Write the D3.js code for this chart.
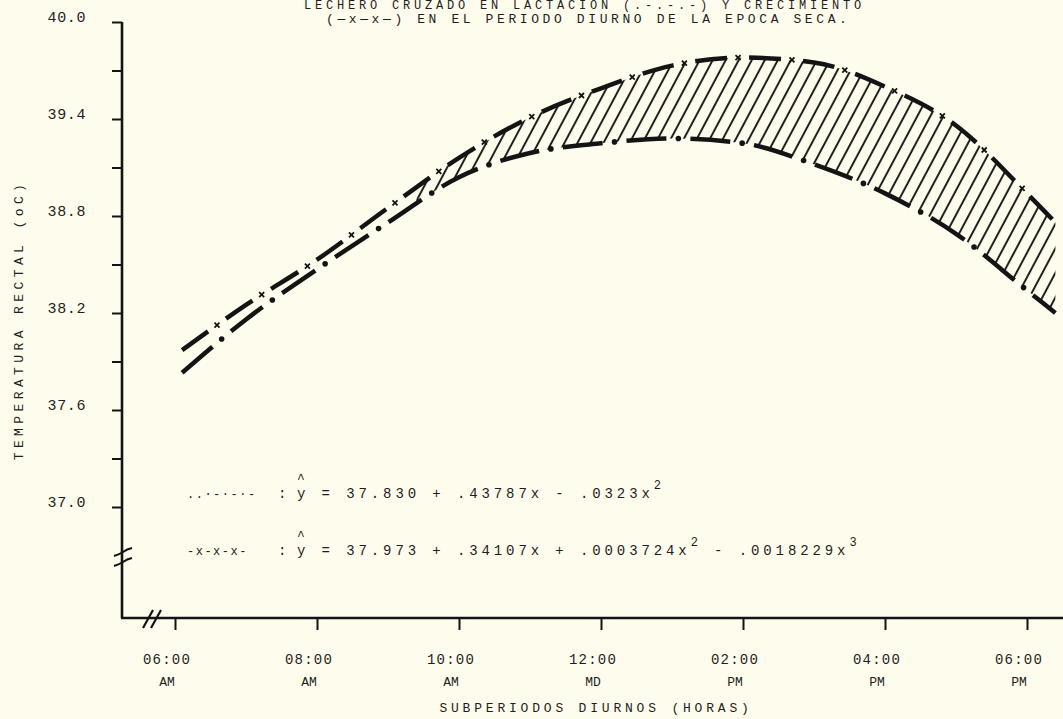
<!DOCTYPE html>
<html>
<head>
<meta charset="utf-8">
<script src="https://cdn.jsdelivr.net/npm/d3@7"></script>
<style>
body { margin: 0; background: #fefcec; }
svg { display: block; }
text { font-family: "Liberation Mono", "DejaVu Sans Mono", monospace; fill: #1e1e1e; }
</style>
</head>
<body>
<div id="chart"></div>
<script>
// horas desde las 06:00 AM
var hours = [0.1, 1, 2, 3, 4, 5, 6, 7, 8, 9, 10, 11, 12, 12.4];
// curva -x-x-x- (cubica)
var cubica = [37.97, 38.25, 38.53, 38.85, 39.16, 39.41, 39.59, 39.73, 39.78, 39.75, 39.60, 39.36, 38.94, 38.76];
// curva ..-.-.- (cuadratica)
var cuadratica = [37.83, 38.16, 38.47, 38.76, 39.04, 39.19, 39.25, 39.28, 39.25, 39.12, 38.94, 38.69, 38.34, 38.20];

var xTicks = [0, 2, 4, 6, 8, 10, 12];
var xHoras = ["06:00", "08:00", "10:00", "12:00", "02:00", "04:00", "06:00"];
var xPeriodo = ["AM", "AM", "AM", "MD", "PM", "PM", "PM"];
var yTicks = [37.0, 37.3, 37.6, 37.9, 38.2, 38.5, 38.8, 39.1, 39.4, 39.7, 40.0];
var yLabels = [37.0, 37.6, 38.2, 38.8, 39.4, 40.0];

var W = 1063, H = 719;
var ink = "#141414";

let svg = d3.select("#chart").append("svg")
    .attr("width", W)
    .attr("height", H);

let x = d3.scaleLinear().domain([0, 12]).range([175, 1027]);
let y = d3.scaleLinear().domain([37.0, 40.0]).range([507, 22]);

var axisX0 = 122, axisY0 = 618;

// patron de rayado
let defs = svg.append("defs");
let pat = defs.append("pattern")
    .attr("id", "hatch")
    .attr("patternUnits", "userSpaceOnUse")
    .attr("width", 11.5).attr("height", 11.5)
    .attr("patternTransform", "rotate(28)");
pat.append("line")
    .attr("x1", 2).attr("y1", 0).attr("x2", 2).attr("y2", 11.5)
    .attr("stroke", ink).attr("stroke-width", 1.9);
defs.append("clipPath").attr("id", "hclip")
    .append("rect")
    .attr("x", x(3.4)).attr("y", 0)
    .attr("width", W - x(3.4)).attr("height", axisY0);

// titulo
svg.append("text")
    .attr("x", 304).attr("y", 9)
    .style("font-size", "12px").style("letter-spacing", "3.8px")
    .text("LECHERO CRUZADO EN LACTACION (.-.-.-) Y CRECIMIENTO");
svg.append("text")
    .attr("x", 326).attr("y", 23)
    .style("font-size", "13px").style("letter-spacing", "3.6px")
    .text("(\u2014x\u2014x\u2014) EN EL PERIODO DIURNO DE LA EPOCA SECA.");

// ejes
svg.append("line")
    .attr("x1", axisX0).attr("y1", y(40)).attr("x2", axisX0).attr("y2", axisY0)
    .attr("stroke", ink).attr("stroke-width", 2.6);
svg.append("line")
    .attr("x1", axisX0 - 1).attr("y1", axisY0).attr("x2", W).attr("y2", axisY0)
    .attr("stroke", ink).attr("stroke-width", 2.6);

let gy = svg.append("g")
    .attr("transform", "translate(" + axisX0 + ",0)")
    .call(d3.axisLeft(y).tickValues(yTicks).tickSize(10).tickFormat(""));
gy.select(".domain").remove();
gy.selectAll("line").attr("stroke", ink).attr("stroke-width", 2);

svg.selectAll(".ylab")
    .data(yLabels)
    .join("text")
    .attr("class", "ylab")
    .attr("x", 86)
    .attr("y", d => y(d) - 5)
    .attr("dy", "0.35em")
    .attr("text-anchor", "end")
    .style("font-size", "15px").style("letter-spacing", "0.6px")
    .text(d => d.toFixed(1));

let gx = svg.append("g")
    .attr("transform", "translate(0," + axisY0 + ")")
    .call(d3.axisBottom(x).tickValues(xTicks).tickSize(12).tickFormat(""));
gx.select(".domain").remove();
gx.selectAll("line").attr("stroke", ink).attr("stroke-width", 2);

svg.selectAll(".xlab")
    .data(xTicks)
    .join("text")
    .attr("class", "xlab")
    .attr("x", d => x(d) - 8)
    .attr("y", 664)
    .attr("text-anchor", "middle")
    .style("font-size", "14px").style("letter-spacing", "1.2px")
    .text((d, i) => xHoras[i]);
svg.selectAll(".xper")
    .data(xTicks)
    .join("text")
    .attr("class", "xper")
    .attr("x", d => x(d) - 8)
    .attr("y", 686)
    .attr("text-anchor", "middle")
    .style("font-size", "13px")
    .text((d, i) => xPeriodo[i]);

// titulos de ejes
svg.append("text")
    .attr("x", 596).attr("y", 712)
    .attr("text-anchor", "middle")
    .style("font-size", "13px").style("letter-spacing", "3.8px")
    .text("SUBPERIODOS DIURNOS (HORAS)");
svg.append("text")
    .attr("transform", "translate(23,320) rotate(-90)")
    .attr("text-anchor", "middle")
    .style("font-size", "13px").style("letter-spacing", "4.4px")
    .text("TEMPERATURA RECTAL (oC)");

// cortes de eje
svg.append("path")
    .attr("d", "M114,556 q6,-2 9,-4 q4,-3 9,-4 M114,566 q6,-2 9,-4 q4,-3 9,-4")
    .attr("fill", "none").attr("stroke", ink).attr("stroke-width", 2);
svg.append("path")
    .attr("d", "M143,628 L153,610 M151,628 L161,610")
    .attr("fill", "none").attr("stroke", ink).attr("stroke-width", 2.2);

// area rayada entre curvas
let area = d3.area()
    .x((d, i) => x(hours[i]))
    .y0((d, i) => y(cuadratica[i]))
    .y1((d, i) => y(cubica[i]))
    .curve(d3.curveMonotoneX);
svg.append("path")
    .datum(hours)
    .attr("d", area)
    .attr("fill", "url(#hatch)")
    .attr("clip-path", "url(#hclip)");

let line = d3.line()
    .x((d, i) => x(hours[i]))
    .y(d => d)
    .curve(d3.curveMonotoneX);

function drawCurve(vals, dash, gap, marker) {
    let p = svg.append("path")
        .datum(vals.map(v => y(v)))
        .attr("d", line)
        .attr("fill", "none")
        .attr("stroke", ink)
        .attr("stroke-width", 4.5)
        .attr("stroke-dasharray", dash + " " + gap);
    let node = p.node();
    let L = node.getTotalLength();
    for (let s = dash + gap / 2; s < L; s += dash + gap) {
        let pt = node.getPointAtLength(s);
        if (marker == "x") {
            svg.append("path")
                .attr("d", "M" + (pt.x - 2.5) + "," + (pt.y - 2.5) + "l5,5 M" + (pt.x + 2.5) + "," + (pt.y - 2.5) + "l-5,5")
                .attr("stroke", ink).attr("stroke-width", 1.8);
        } else {
            svg.append("circle")
                .attr("cx", pt.x).attr("cy", pt.y).attr("r", 2.8)
                .attr("fill", ink);
        }
    }
}
drawCurve(cubica, 32, 22, "x");
drawCurve(cuadratica, 40, 24, "dot");

// ecuaciones
function ecuacion(yy, marca, partes) {
    svg.append("text")
        .attr("x", 187).attr("y", yy)
        .style("font-size", "12px").style("letter-spacing", "1.5px")
        .text(marca);
    svg.append("text")
        .attr("x", 278).attr("y", yy)
        .style("font-size", "14px")
        .text(":");
    svg.append("text")
        .attr("x", 297).attr("y", yy - 15)
        .style("font-size", "13px")
        .text("^");
    let t = svg.append("text")
        .attr("x", 297).attr("y", yy)
        .style("font-size", "14px").style("letter-spacing", "3.9px");
    partes.forEach(function(pt) {
        if (pt.sup) {
            t.append("tspan").attr("dy", -9).style("font-size", "12px").text(pt.sup);
            t.append("tspan").attr("dy", 9).text(pt.txt || "");
        } else {
            t.append("tspan").text(pt.txt);
        }
    });
}
ecuacion(498, "..\u00b7-\u00b7-\u00b7-", [
    {txt: "y = 37.830 + .43787x - .0323x"}, {sup: "2"}
]);
ecuacion(555, "-x-x-x-", [
    {txt: "y = 37.973 + .34107x + .0003724x"}, {sup: "2", txt: " - .0018229x"}, {sup: "3"}
]);
</script>
</body>
</html>
